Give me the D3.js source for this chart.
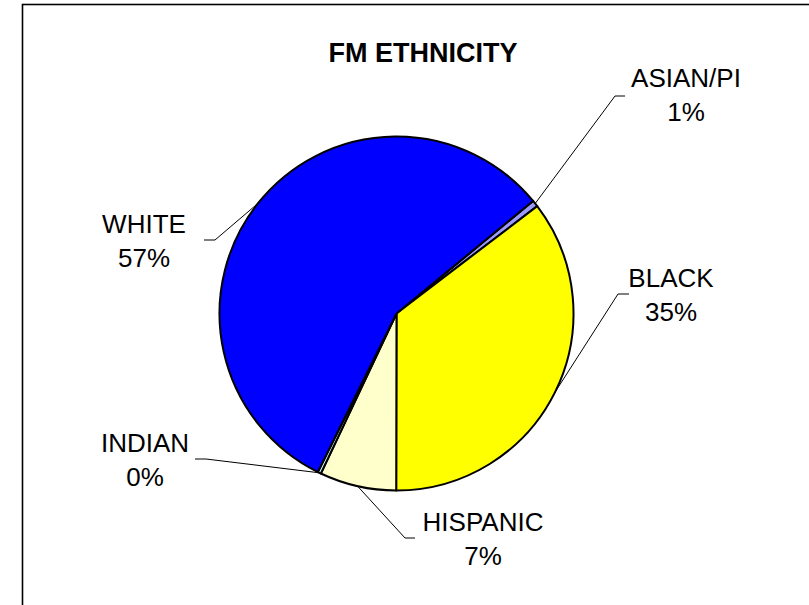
<!DOCTYPE html>
<html>
<head>
<meta charset="utf-8">
<script src="https://cdn.jsdelivr.net/npm/d3@7"></script>
<style>
  html, body { margin: 0; padding: 0; background: #fff; }
  svg { display: block; }
  text { font-family: "Liberation Sans", Arial, sans-serif; fill: #000; }
</style>
</head>
<body>
<svg id="chart" width="809" height="605"></svg>
<script>
// ---- data ----
const categories = ["ASIAN/PI", "BLACK", "HISPANIC", "INDIAN", "WHITE"];
const values = [0.6, 35.4, 7.0, 0.3, 56.7];
const sliceColors = ["#9999FF", "#FFFF00", "#FFFFCC", "#CCFFFF", "#0000FF"];
const title = "FM ETHNICITY";

// ---- layout (label anchors: text centre x, first baseline y, elbow point) ----
const labelLayout = {
  "ASIAN/PI": { x: 686, y: 87, elbow: [615, 96], end: [625, 96] },
  "BLACK":    { x: 671, y: 287, elbow: [618, 294], end: [629, 294] },
  "HISPANIC": { x: 483, y: 531, elbow: [405, 538], end: [415, 538] },
  "INDIAN":   { x: 145, y: 452, elbow: [206, 459], end: [195, 459] },
  "WHITE":    { x: 144, y: 233, elbow: [215, 240], end: [204, 240] }
};

const svg = d3.select("#chart");
const cx = 396.5, cy = 313.5, r = 177;
const startDeg = 50.5;

// frame
svg.append("rect")
  .attr("x", 22.5).attr("y", 4.5)
  .attr("width", 820).attr("height", 640)
  .attr("fill", "none").attr("stroke", "#000").attr("stroke-width", 1.6);

// title
svg.append("text")
  .attr("x", 423).attr("y", 62)
  .attr("text-anchor", "middle")
  .attr("font-size", 27).attr("font-weight", "bold")
  .text(title);

const data = categories.map((c, i) => ({ cat: c, value: values[i], color: sliceColors[i] }));
const total = d3.sum(values);

const pie = d3.pie().sort(null).value(d => d.value)
  .startAngle(startDeg * Math.PI / 180)
  .endAngle(startDeg * Math.PI / 180 + 2 * Math.PI);
const arcs = pie(data);
const arc = d3.arc().innerRadius(0).outerRadius(r);

const g = svg.append("g").attr("transform", `translate(${cx},${cy})`);
g.selectAll("path.slice").data(arcs).enter().append("path")
  .attr("class", "slice")
  .attr("d", arc)
  .attr("fill", d => d.data.color)
  .attr("stroke", "#000")
  .attr("stroke-width", 2)
  .attr("stroke-linejoin", "round");

// leader lines & labels
const pct = d3.format(".0%");
arcs.forEach(a => {
  const L = labelLayout[a.data.cat];
  const mid = (a.startAngle + a.endAngle) / 2;
  const px = cx + r * Math.sin(mid);
  const py = cy - r * Math.cos(mid);
  svg.append("polyline")
    .attr("points", [[px, py], L.elbow, L.end].map(p => p.join(",")).join(" "))
    .attr("fill", "none").attr("stroke", "#000").attr("stroke-width", 1);
  const t = svg.append("text")
    .attr("text-anchor", "middle")
    .attr("font-size", 26);
  t.append("tspan").attr("x", L.x).attr("y", L.y).text(a.data.cat);
  t.append("tspan").attr("x", L.x).attr("y", L.y + 34).text(pct(a.data.value / total));
});
</script>
</body>
</html>
